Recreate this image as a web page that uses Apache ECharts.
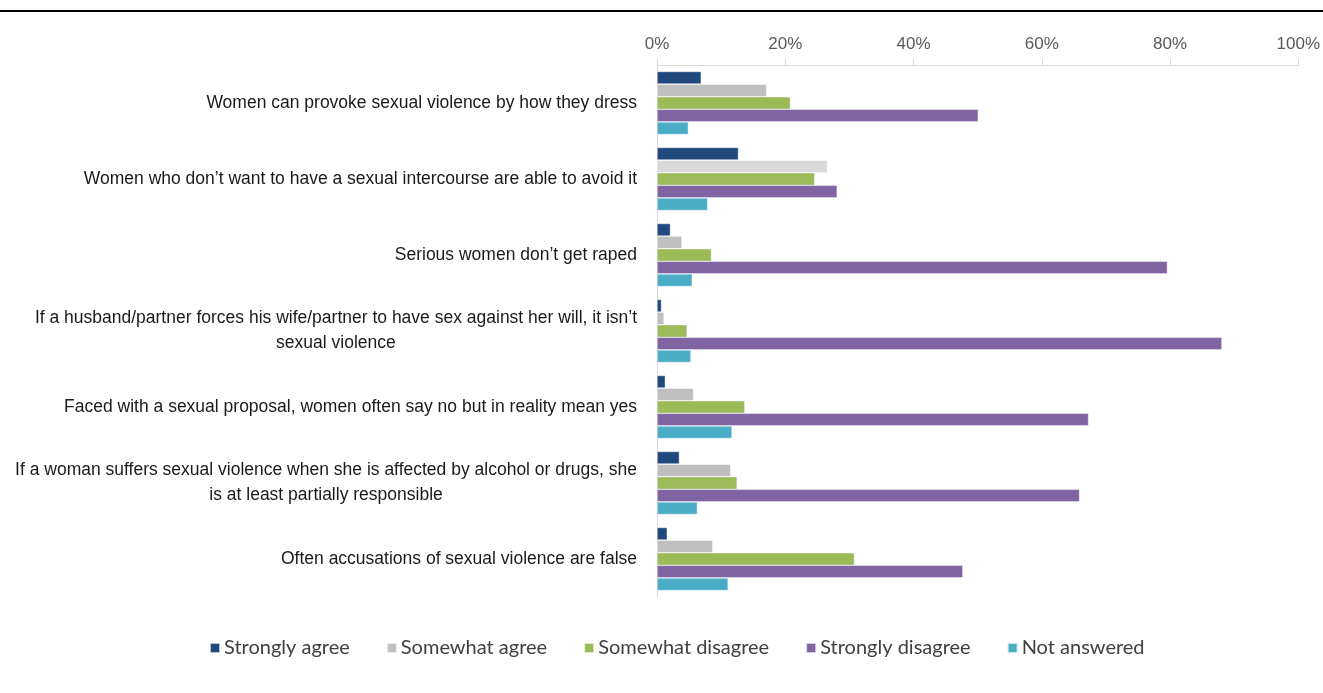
<!DOCTYPE html>
<html>
<head>
<meta charset="utf-8">
<script src="https://cdn.jsdelivr.net/npm/echarts@6/dist/echarts.min.js"></script>
<style>
html,body{margin:0;padding:0;background:#fff;}
#chart{width:1323px;height:693px;}
</style>
</head>
<body>
<div id="chart"></div>
<script>
const categories = [
  "Women can provoke sexual violence by how they dress",
  "Women who don\u2019t want to have a sexual intercourse are able to avoid it",
  "Serious women don\u2019t get raped",
  "If a husband/partner forces his wife/partner to have sex against her will, it isn\u2019t\nsexual violence",
  "Faced with a sexual proposal, women often say no but in reality mean yes",
  "If a woman suffers sexual violence when she is affected by alcohol or drugs, she\nis at least partially responsible",
  "Often accusations of sexual violence are false"
];
const seriesNames = ["Strongly agree", "Somewhat agree", "Somewhat disagree", "Strongly disagree", "Not answered"];
const stronglyAgree    = [6.9, 12.7, 2.1, 0.7, 1.3, 3.5, 1.6];
const somewhatAgree    = [17.1, 26.6, 3.9, 1.1, 5.7, 11.5, 8.7];
const somewhatDisagree = [20.8, 24.6, 8.5, 4.7, 13.7, 12.5, 30.8];
const stronglyDisagree = [50.1, 28.1, 79.6, 88.1, 67.3, 65.9, 47.7];
const notAnswered      = [4.9, 7.9, 5.5, 5.3, 11.7, 6.3, 11.1];
const xTicks = [0, 20, 40, 60, 80, 100];

const colors = ["#1F497D", "#BFBFBF", "#9BBB59", "#8064A2", "#4BACC6"];
const allData = [stronglyAgree, somewhatAgree, somewhatDisagree, stronglyDisagree, notAnswered];

const chart = echarts.init(document.getElementById('chart'), null, {renderer: 'canvas'});
const series = seriesNames.map((name, si) => ({
  name: name,
  type: 'bar',
  barGap: '0%',
  barCategoryGap: '17%',
  itemStyle: {color: colors[si], borderColor: 'rgba(255,255,255,0.7)', borderWidth: 0.6},
  data: allData[si].map((v, i) => (si === 1 && i === 1) ? {value: v, itemStyle: {color: '#D9D9D9'}} : v),
  emphasis: {disabled: true}
}));

const labelFont = 'Liberation Sans, Arial, sans-serif';
chart.setOption({
  animation: false,
  color: colors,
  graphic: [{
    type: 'line',
    shape: {x1: 0, y1: 11, x2: 1323, y2: 11},
    style: {stroke: '#000', lineWidth: 2}
  }],
  grid: {left: 657, right: 23, top: 65, bottom: 96, containLabel: false},
  xAxis: {
    type: 'value',
    position: 'top',
    min: 0, max: 100, interval: 20,
    axisLine: {show: true, lineStyle: {color: '#D9D9D9', width: 1}},
    axisTick: {show: true, length: 6, lineStyle: {color: '#D9D9D9'}},
    splitLine: {show: false},
    axisLabel: {
      margin: 12,
      color: '#595959',
      fontFamily: labelFont,
      fontSize: 17,
      formatter: v => xTicks.includes(v) ? v + '%' : ''
    }
  },
  yAxis: {
    type: 'category',
    inverse: true,
    data: categories,
    axisLine: {show: true, lineStyle: {color: '#D9D9D9', width: 1}},
    axisTick: {show: false},
    splitLine: {show: false},
    axisLabel: {
      margin: 20,
      color: '#1a1a1a',
      fontFamily: labelFont,
      fontSize: 17.5,
      lineHeight: 25,
      formatter: v => v.split('\n').map(l => '{c|' + l + '}').join('\n'),
      rich: {
        c: {align: 'center', color: '#1a1a1a', fontFamily: labelFont, fontSize: 17.5, lineHeight: 25}
      }
    }
  },
  legend: {
    bottom: 30,
    left: 204,
    itemWidth: 10,
    itemHeight: 10,
    itemGap: 36,
    icon: 'rect',
    textStyle: {color: '#404040', fontFamily: 'Lato, sans-serif', fontSize: 20, padding: [0, 0, 0, -1]},
    data: seriesNames
  },
  series: series
});
</script>
</body>
</html>
